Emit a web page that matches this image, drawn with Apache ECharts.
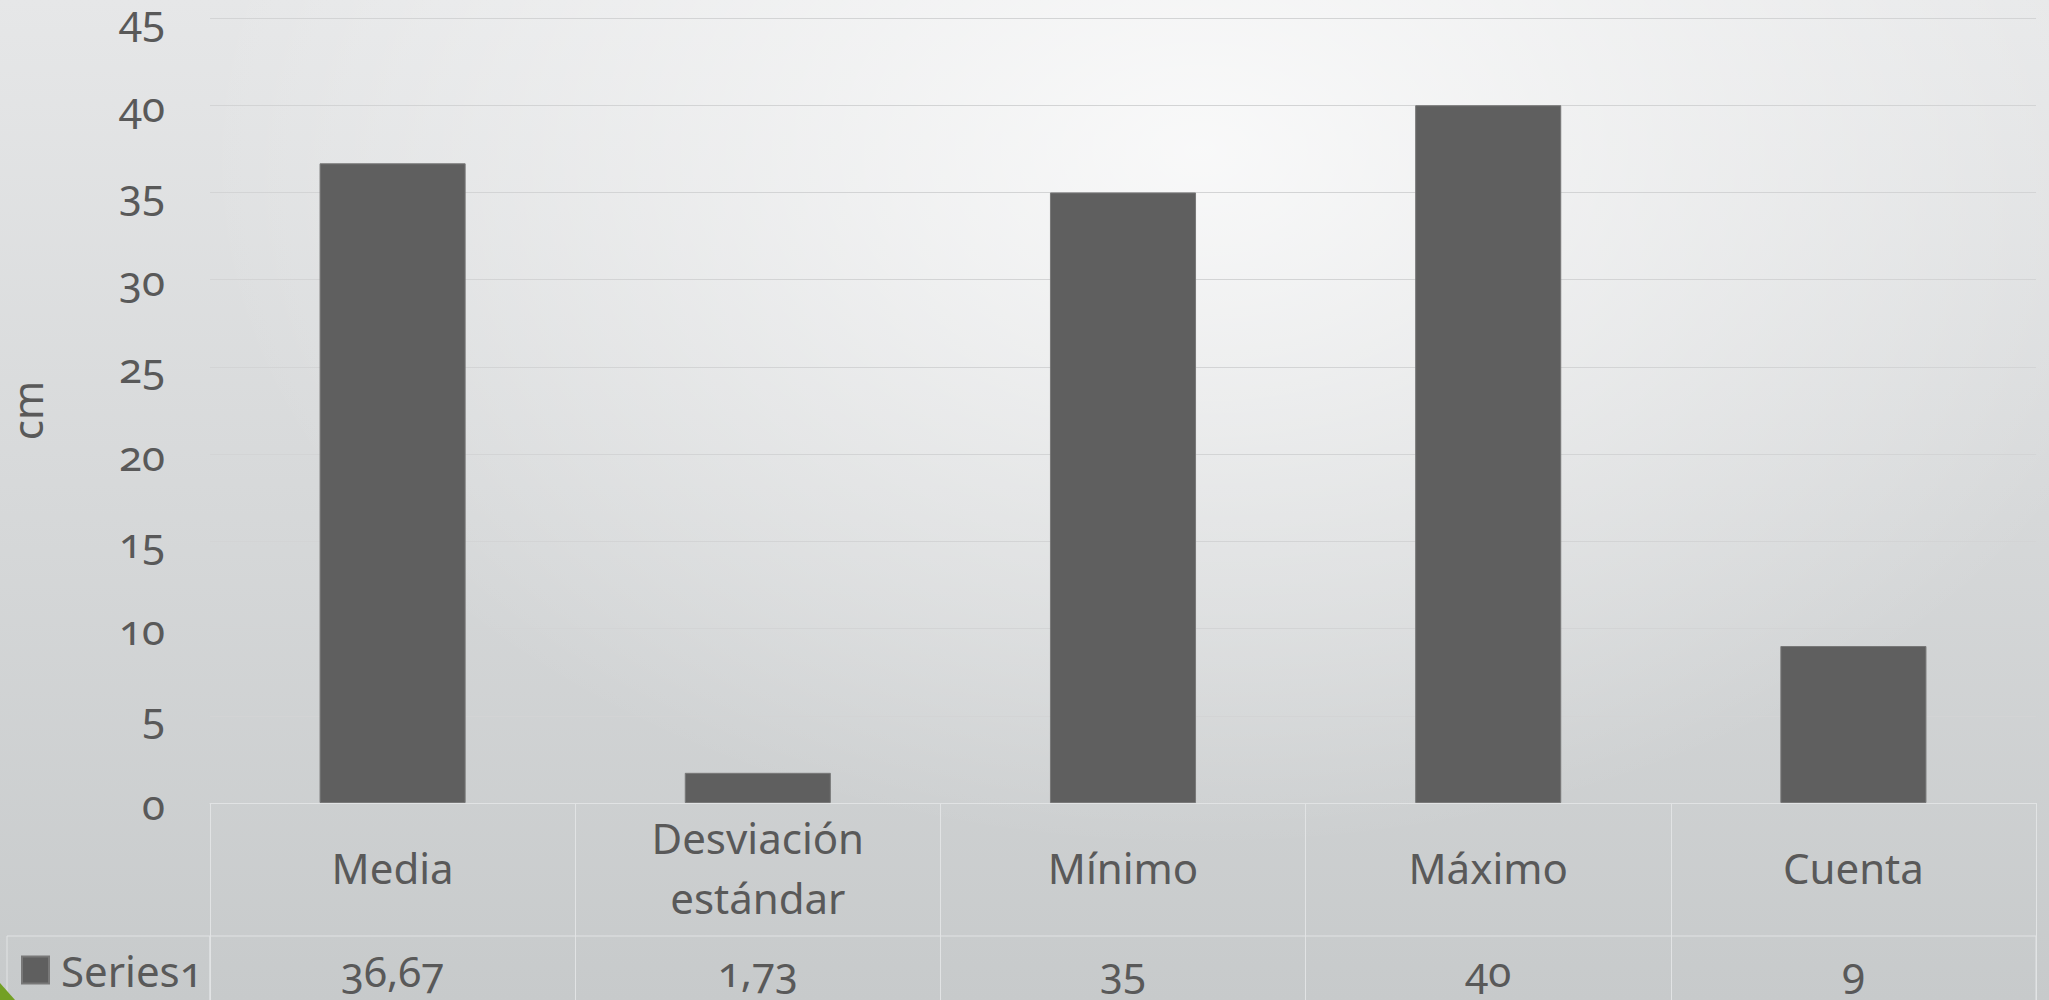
<!DOCTYPE html>
<html>
<head>
<meta charset="utf-8">
<title>Estadísticos (cm)</title>
<script src="https://cdn.jsdelivr.net/npm/echarts@6/dist/echarts.min.js"></script>
<style>
  html, body { margin: 0; padding: 0; }
  #chart {
    width: 2049px;
    height: 1000px;
    background:
      radial-gradient(ellipse 1000px 700px at 1200px 150px, rgba(255,255,255,0.78), rgba(255,255,255,0) 100%),
      linear-gradient(#e6e7e8, #c7cacb);
  }
  /* old-style figures for every number drawn */
  #chart svg text { font-feature-settings: "onum" 1; font-variant-numeric: oldstyle-nums; }
</style>
</head>
<body>
<div id="chart"></div>
<script>
// Descriptive statistics, in cm
const categories = ['Media', 'Desviación\nestándar', 'Mínimo', 'Máximo', 'Cuenta'];
const seriesName = 'Series1';
const values = [36.67, 1.73, 35, 40, 9];
const yTicks = { min: 0, max: 45, interval: 5 };
const yAxisTitle = 'cm';

const FONT = '"Noto Sans", sans-serif';
const TEXT = '#595959';
const BAR = '#5f5f5f';
const GRIDLINE = '#d3d4d5';
const TABLE_LINE = '#e1e3e4';

// decimal comma, as in the data table
const fmt = v => String(v).replace('.', ',');

const chart = echarts.init(document.getElementById('chart'), null, { renderer: 'svg' });

chart.setOption({
  backgroundColor: 'transparent',
  animation: false,
  textStyle: { fontFamily: FONT, color: TEXT },
  grid: [
    // plot area
    { left: 210, right: 13, top: 18, height: 785, outerBoundsMode: 'none' },
    // data-table value row
    { left: 210, right: 13, top: 936, height: 133, show: true, borderColor: TABLE_LINE, borderWidth: 1, outerBoundsMode: 'none' },
    // data-table legend cell
    { left: 7, width: 203, top: 936, height: 133, show: true, borderColor: TABLE_LINE, borderWidth: 1, outerBoundsMode: 'none' }
  ],
  legend: {
    data: [seriesName],
    left: 21,
    top: 949,
    padding: 0,
    icon: 'rect',
    itemWidth: 27,
    itemHeight: 27,
    itemGap: 0,
    textStyle: { fontFamily: FONT, fontSize: 42, color: TEXT, padding: [0, 0, 0, 7] }
  },
  xAxis: [
    {
      type: 'category',
      gridIndex: 0,
      data: categories,
      axisLine: { show: true, lineStyle: { color: TABLE_LINE, width: 1 } },
      axisTick: { show: true, interval: 0, length: 133, lineStyle: { color: TABLE_LINE, width: 1 } },
      axisLabel: {
        interval: 0,
        margin: 64,
        verticalAlign: 'middle',
        fontFamily: FONT,
        fontSize: 42,
        lineHeight: 60,
        color: TEXT
      },
      splitLine: { show: false }
    },
    {
      type: 'category',
      gridIndex: 1,
      position: 'top',
      data: categories,
      axisLine: { show: false },
      axisTick: { show: false },
      splitLine: { show: true, interval: 0, lineStyle: { color: TABLE_LINE, width: 1 } },
      axisLabel: {
        inside: true,
        interval: 0,
        margin: 34,
        verticalAlign: 'middle',
        fontFamily: FONT,
        fontSize: 42,
        lineHeight: 30,
        color: TEXT,
        formatter: (v, i) => fmt(values[i])
      }
    },
    { type: 'value', gridIndex: 2, show: false }
  ],
  yAxis: [
    {
      type: 'value',
      gridIndex: 0,
      min: yTicks.min,
      max: yTicks.max,
      interval: yTicks.interval,
      name: yAxisTitle,
      nameLocation: 'middle',
      nameRotate: 90,
      nameGap: 163,
      nameTextStyle: { fontFamily: FONT, fontSize: 42, lineHeight: 42, color: TEXT },
      axisLine: { show: false },
      axisTick: { show: false },
      axisLabel: { margin: 45, fontFamily: FONT, fontSize: 42, lineHeight: 30, color: TEXT },
      splitLine: { show: true, lineStyle: { color: GRIDLINE, width: 1.2 } }
    },
    { type: 'value', gridIndex: 1, show: false },
    { type: 'value', gridIndex: 2, show: false }
  ],
  series: [
    {
      name: seriesName,
      type: 'bar',
      xAxisIndex: 0,
      yAxisIndex: 0,
      data: values,
      barWidth: '40%',
      itemStyle: { color: BAR, borderColor: '#787878', borderWidth: 1 }
    }
  ],
  graphic: [
    // green corner accent of the slide
    {
      type: 'polygon',
      silent: true,
      shape: { points: [[0, 983], [15, 1000], [0, 1000]] },
      style: { fill: '#73a024' }
    }
  ]
});
</script>
</body>
</html>
